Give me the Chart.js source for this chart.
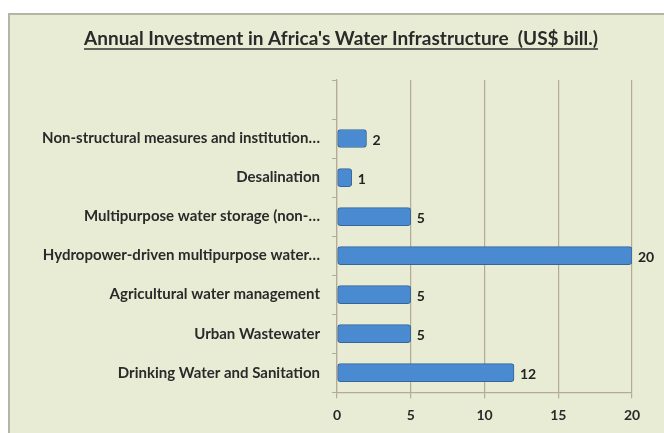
<html>
<head>
<meta charset="UTF-8" />
<script src="https://cdn.jsdelivr.net/npm/chart.js"></script>
<title>Annual Investment in Africa's Water Infrastructure</title>
<style>
  body { margin: 0; padding: 0; background: #ffffff; }
  #wrap { position: relative; width: 664px; height: 433px; }
</style>
<script>
// categories top to bottom (first slot is empty in the original)
var categories = [
  "",
  "Non-structural measures and institution…",
  "Desalination",
  "Multipurpose water storage (non-…",
  "Hydropower-driven multipurpose water…",
  "Agricultural water management",
  "Urban Wastewater",
  "Drinking Water and Sanitation"
];
var investment = [null, 2, 1, 5, 20, 5, 5, 12];
var xTicks = [0, 5, 10, 15, 20];

var chartTitle = "Annual Investment in Africa's Water Infrastructure  (US$ bill.)";
var FONT = "Lato, 'Open Sans', sans-serif";
</script>
</head>
<body>
<div id="wrap"><canvas id="chart" width="664" height="433"></canvas></div>
<script>
// background + frame
var framePlugin = {
  id: "frame",
  beforeDraw: function(chart) {
    var ctx = chart.ctx;
    ctx.save();
    ctx.fillStyle = "#ffffff";
    ctx.fillRect(0, 0, chart.width, chart.height);
    ctx.fillStyle = "#e9ecd4";
    ctx.fillRect(8, 13, chart.width, chart.height);
    ctx.strokeStyle = "#b6b4a6";
    ctx.lineWidth = 2;
    ctx.beginPath();
    ctx.moveTo(9, chart.height);
    ctx.lineTo(9, 14);
    ctx.lineTo(chart.width, 14);
    ctx.stroke();
    ctx.restore();
  }
};

// underlined title, a bit right of centre like the original
var titlePlugin = {
  id: "utitle",
  afterDraw: function(chart) {
    var ctx = chart.ctx;
    ctx.save();
    ctx.font = "bold 19px " + FONT;
    ctx.fillStyle = "#2a2a2a";
    ctx.textAlign = "center";
    ctx.textBaseline = "middle";
    var cx = 341, cy = 39;
    ctx.fillText(chartTitle, cx, cy);
    var w = ctx.measureText(chartTitle).width;
    ctx.strokeStyle = "#333333";
    ctx.lineWidth = 1.5;
    ctx.beginPath();
    ctx.moveTo(cx - w / 2, cy + 10);
    ctx.lineTo(cx + w / 2, cy + 10);
    ctx.stroke();
    ctx.restore();
  }
};

// value labels at end of bars
var valuePlugin = {
  id: "values",
  afterDatasetsDraw: function(chart) {
    var ctx = chart.ctx;
    var meta = chart.getDatasetMeta(0);
    ctx.save();
    ctx.font = "bold 14px " + FONT;
    ctx.fillStyle = "#222222";
    ctx.textBaseline = "middle";
    meta.data.forEach(function(bar, i) {
      var v = investment[i];
      if (v === null) return;
      ctx.fillText(String(v), bar.x + 6, bar.y + 2);
    });
    ctx.restore();
  }
};

function barFill(context) {
  var chart = context.chart;
  var el = context.element;
  if (!el || el.y === undefined) return "#4a8ad0";
  var g = chart.ctx.createLinearGradient(0, el.y - 9, 0, el.y + 9);
  g.addColorStop(0, "#80b2e8");
  g.addColorStop(0.35, "#4b8dd5");
  g.addColorStop(1, "#3a72b5");
  return g;
}

new Chart(document.getElementById("chart"), {
  type: "bar",
  data: {
    labels: categories,
    datasets: [{
      data: investment,
      backgroundColor: barFill,
      borderColor: "#36659a",
      borderWidth: 1,
      borderRadius: 3,
      borderSkipped: false,
      barThickness: 18
    }]
  },
  options: {
    indexAxis: "y",
    responsive: false,
    animation: false,
    layout: { padding: { left: 8, right: 32, top: 80, bottom: 0 } },
    plugins: {
      legend: { display: false },
      tooltip: { enabled: false },
      title: { display: false }
    },
    scales: {
      x: {
        min: 0,
        max: 20,
        afterBuildTicks: function(scale) {
          scale.ticks = xTicks.map(function(v) { return { value: v }; });
        },
        grid: { color: "#b3ab97", lineWidth: 1.2, drawTicks: true, tickLength: 6, tickColor: "#b3ab97" },
        border: { display: true, color: "#b3ab97", width: 1.2 },
        ticks: {
          color: "#2a2a2a",
          padding: 9,
          font: { family: FONT, size: 14, weight: "bold" }
        }
      },
      y: {
        afterFit: function(scale) { scale.width = 329; },
        grid: { display: true, drawOnChartArea: false, offset: true, tickLength: 5, color: "#b3ab97" },
        border: { display: true, color: "#b3ab97", width: 1.2 },
        ticks: {
          color: "#2a2a2a",
          padding: 12,
          font: { family: FONT, size: 15, weight: "bold" }
        }
      }
    }
  },
  plugins: [framePlugin, titlePlugin, valuePlugin]
});
</script>
</body>
</html>
